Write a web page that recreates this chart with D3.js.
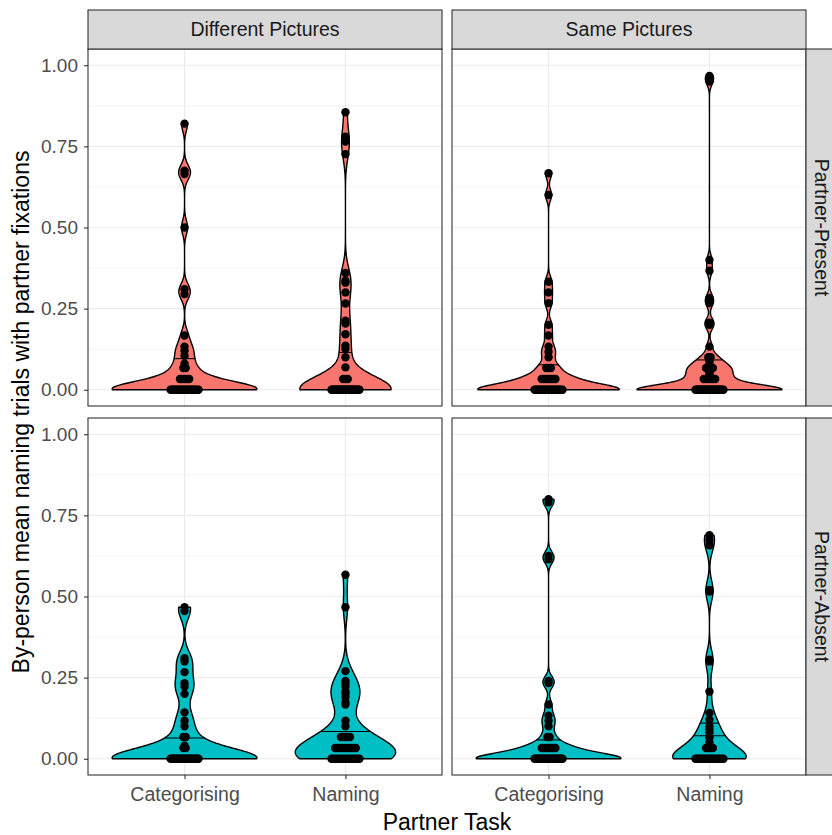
<!DOCTYPE html>
<html>
<head>
<meta charset="utf-8">
<script src="https://cdn.jsdelivr.net/npm/d3@7"></script>
<style>
  body { margin: 0; background: #fff; }
  svg { display: block; }
  text { font-family: "Liberation Sans", Arial, sans-serif; }
</style>
</head>
<body>
<svg id="chart" width="832" height="835"></svg>
<script>
// facet and axis labels
const pictureConditions = ["Different Pictures", "Same Pictures"];
const partnerConditions = ["Partner-Present", "Partner-Absent"];
const partnerTasks = ["Categorising", "Naming"];
const yTickValues = [0, 0.25, 0.5, 0.75, 1];
const yMinorValues = [0.125, 0.375, 0.625, 0.875];
const presenceFills = ["#F8766D", "#00BFC4"];

// by-person means
const presentDiffCat = [0.82, 0.675, 0.665, 0.5, 0.31, 0.295, 0.167, 0.133, 0.12, 0.105, 0.08, 0.067, 0.067,
  0.033, 0.033, 0.033, 0.033, 0.033,
  0, 0, 0, 0, 0, 0, 0, 0, 0, 0, 0, 0, 0, 0, 0, 0, 0, 0, 0, 0, 0, 0];
const presentDiffNam = [0.855, 0.78, 0.765, 0.726, 0.36, 0.336, 0.33, 0.3, 0.266, 0.213, 0.204, 0.171, 0.136, 0.126, 0.1, 0.069,
  0.033, 0.033, 0.033,
  0, 0, 0, 0, 0, 0, 0, 0, 0, 0, 0, 0, 0, 0, 0, 0, 0, 0, 0, 0, 0, 0, 0, 0, 0, 0, 0, 0];
const presentSameCat = [0.667, 0.6, 0.333, 0.3, 0.267, 0.2, 0.167, 0.133, 0.117, 0.1, 0.067, 0.067, 0.067,
  0.033, 0.033, 0.033, 0.033, 0.033, 0.033, 0.033,
  0, 0, 0, 0, 0, 0, 0, 0, 0, 0, 0, 0, 0, 0, 0, 0, 0, 0, 0, 0, 0, 0];
const presentSameNam = [0.967, 0.95, 0.4, 0.367, 0.283, 0.267, 0.207, 0.2, 0.133, 0.1, 0.1, 0.09, 0.083, 0.075,
  0.067, 0.067, 0.067, 0.067, 0.06, 0.056, 0.05, 0.045,
  0.033, 0.033, 0.033, 0.033, 0.033, 0.033,
  0, 0, 0, 0, 0, 0, 0, 0, 0, 0, 0, 0, 0, 0, 0, 0, 0, 0, 0, 0, 0, 0, 0, 0, 0, 0, 0, 0, 0, 0];
const absentDiffCat = [0.467, 0.455, 0.31, 0.3, 0.267, 0.233, 0.222, 0.2, 0.143, 0.117, 0.1, 0.067, 0.067, 0.04, 0.033, 0.033,
  0, 0, 0, 0, 0, 0, 0, 0, 0, 0, 0, 0, 0, 0, 0, 0, 0, 0, 0, 0, 0, 0];
const absentDiffNam = [0.567, 0.467, 0.27, 0.24, 0.233, 0.222, 0.207, 0.2, 0.19, 0.175, 0.167, 0.117, 0.1,
  0.067, 0.067, 0.067, 0.067, 0.067,
  0.033, 0.033, 0.033, 0.033, 0.033, 0.033, 0.033, 0.033, 0.033, 0.033,
  0, 0, 0, 0, 0, 0, 0, 0, 0, 0, 0, 0, 0, 0];
const absentSameCat = [0.8, 0.79, 0.625, 0.615, 0.24, 0.233, 0.167, 0.133, 0.117, 0.1, 0.067, 0.067,
  0.033, 0.033, 0.033, 0.033, 0.033, 0.033, 0.033,
  0, 0, 0, 0, 0, 0, 0, 0, 0, 0, 0, 0, 0, 0, 0, 0, 0, 0, 0, 0, 0, 0, 0, 0];
const absentSameNam = [0.689, 0.674, 0.658, 0.52, 0.515, 0.305, 0.3, 0.207, 0.141, 0.12, 0.1, 0.09, 0.08, 0.067, 0.065, 0.05,
  0.033, 0.033, 0.033, 0.033,
  0, 0, 0, 0, 0, 0, 0, 0, 0, 0, 0, 0, 0, 0, 0, 0, 0];

// horizontal summary lines drawn across each violin
const presentDiffLines = [[0.096], [0.115]];
const presentSameLines = [[0.077], [0.092]];
const absentDiffLines = [[0.064], [0.084]];
const absentSameLines = [[0.058], [0.071, 0.11]];

const cells = [
  { row: 0, col: 0, values: [presentDiffCat, presentDiffNam], lines: presentDiffLines },
  { row: 0, col: 1, values: [presentSameCat, presentSameNam], lines: presentSameLines },
  { row: 1, col: 0, values: [absentDiffCat, absentDiffNam], lines: absentDiffLines },
  { row: 1, col: 1, values: [absentSameCat, absentSameNam], lines: absentSameLines }
];

// layout
const panelLeft = [88, 452], panelTop = [49, 418];
const panelW = 354, panelH = 357;
const stripTop = 10, stripRightX = 806, stripRightW = 40;
const adjust = 0.8;

const svg = d3.select("#chart");

function nrd0(v) {
  const s = v.slice().sort(d3.ascending);
  const sd = d3.deviation(s);
  const iqr = d3.quantileSorted(s, 0.75) - d3.quantileSorted(s, 0.25);
  let lo = Math.min(sd, iqr / 1.34);
  if (!(lo > 0)) lo = sd || 1;
  return 0.9 * lo * Math.pow(s.length, -0.2);
}

function densityCurve(v) {
  const bw = nrd0(v) * adjust;
  const [lo, hi] = d3.extent(v);
  const norm = bw * Math.sqrt(2 * Math.PI);
  return d3.range(512).map(i => {
    const y = lo + (hi - lo) * i / 511;
    return { y, d: d3.mean(v, x => Math.exp(-0.5 * ((y - x) / bw) ** 2)) / norm };
  });
}

cells.forEach(cell => {
  const x0 = panelLeft[cell.col], y0 = panelTop[cell.row];
  const g = svg.append("g");

  const x = d3.scalePoint().domain(partnerTasks).range([x0, x0 + panelW]).padding(0.6);
  const y = d3.scaleLinear().domain([-0.05, 1.05]).range([y0 + panelH, y0]);

  // panel background + grid
  g.append("rect").attr("x", x0).attr("y", y0).attr("width", panelW).attr("height", panelH).attr("fill", "#fff");
  g.selectAll(".minor").data(yMinorValues).enter().append("line")
    .attr("x1", x0).attr("x2", x0 + panelW).attr("y1", d => y(d)).attr("y2", d => y(d))
    .attr("stroke", "#EBEBEB").attr("stroke-width", 0.6);
  g.selectAll(".major").data(yTickValues).enter().append("line")
    .attr("x1", x0).attr("x2", x0 + panelW).attr("y1", d => y(d)).attr("y2", d => y(d))
    .attr("stroke", "#EBEBEB").attr("stroke-width", 1.1);
  g.selectAll(".vmajor").data(partnerTasks).enter().append("line")
    .attr("x1", d => x(d)).attr("x2", d => x(d)).attr("y1", y0).attr("y2", y0 + panelH)
    .attr("stroke", "#EBEBEB").attr("stroke-width", 1.1);

  // densities, scaled by the widest in the panel
  const curves = cell.values.map(densityCurve);
  const maxD = d3.max(curves, c => d3.max(c, p => p.d));
  const halfMax = 0.9 * x.step() / 2;

  curves.forEach((curve, i) => {
    const cx = x(partnerTasks[i]);
    const w = p => p.d / maxD * halfMax;
    const area = d3.area().y(p => y(p.y)).x0(p => cx - w(p)).x1(p => cx + w(p));
    g.append("path").datum(curve).attr("d", area)
      .attr("fill", presenceFills[cell.row]).attr("stroke", "#000").attr("stroke-width", 1.4)
      .attr("stroke-linejoin", "round");

    // summary lines
    const bis = d3.bisector(p => p.y).left;
    cell.lines[i].forEach(v => {
      const j = Math.min(curve.length - 1, Math.max(1, bis(curve, v)));
      const a = curve[j - 1], b = curve[j];
      const t = (v - a.y) / (b.y - a.y);
      const hw = (a.d + (b.d - a.d) * t) / maxD * halfMax;
      g.append("line").attr("x1", cx - hw).attr("x2", cx + hw).attr("y1", y(v)).attr("y2", y(v))
        .attr("stroke", "#000").attr("stroke-width", 1.1);
    });

    // dots, equal values stacked side by side around the centre
    const rows = d3.groups(cell.values[i], v => v);
    rows.forEach(([v, list]) => {
      const k = list.length;
      const gap = k > 1 ? Math.min(2.3, 28 / (k - 1)) : 0;
      g.selectAll(null).data(list).enter().append("circle")
        .attr("cx", (d, n) => cx + (n - (k - 1) / 2) * gap)
        .attr("cy", y(v)).attr("r", 4.2).attr("fill", "#000");
    });
  });

  g.append("rect").attr("x", x0).attr("y", y0).attr("width", panelW).attr("height", panelH)
    .attr("fill", "none").attr("stroke", "#333333").attr("stroke-width", 1.1);

  // y axis on left column
  if (cell.col === 0) {
    const ax = g.append("g").attr("transform", `translate(${x0},0)`)
      .call(d3.axisLeft(y).tickValues(yTickValues).tickFormat(d3.format(".2f")).tickSize(4).tickPadding(6));
    ax.select(".domain").remove();
    ax.selectAll("line").attr("stroke", "#333333").attr("stroke-width", 1.1);
    ax.selectAll("text").attr("fill", "#4D4D4D").style("font-size", "19px");
  }
  // x axis on bottom row
  if (cell.row === 1) {
    const ax = g.append("g").attr("transform", `translate(0,${y0 + panelH})`)
      .call(d3.axisBottom(x).tickSize(4).tickPadding(8));
    ax.select(".domain").remove();
    ax.selectAll("line").attr("stroke", "#333333").attr("stroke-width", 1.1);
    ax.selectAll("text").attr("fill", "#4D4D4D").style("font-size", "19.5px");
  }
});

// top strips
pictureConditions.forEach((lab, c) => {
  svg.append("rect").attr("x", panelLeft[c]).attr("y", stripTop).attr("width", panelW).attr("height", panelTop[0] - stripTop)
    .attr("fill", "#D9D9D9").attr("stroke", "#333333").attr("stroke-width", 1.1);
  svg.append("text").attr("x", panelLeft[c] + panelW / 2).attr("y", (stripTop + panelTop[0]) / 2)
    .attr("dy", "0.35em").attr("text-anchor", "middle").attr("fill", "#1A1A1A")
    .style("font-size", "19.5px").text(lab);
});

// right strips
partnerConditions.forEach((lab, r) => {
  svg.append("rect").attr("x", stripRightX).attr("y", panelTop[r]).attr("width", stripRightW).attr("height", panelH)
    .attr("fill", "#D9D9D9").attr("stroke", "#333333").attr("stroke-width", 1.1);
  const cy = panelTop[r] + panelH / 2;
  svg.append("text").attr("transform", `translate(${stripRightX + 16},${cy}) rotate(90)`)
    .attr("dy", "0.35em").attr("text-anchor", "middle").attr("fill", "#1A1A1A")
    .style("font-size", "19.5px").text(lab);
});

// axis titles
svg.append("text").attr("x", (panelLeft[0] + stripRightX) / 2).attr("y", 830)
  .attr("text-anchor", "middle").attr("fill", "#000").style("font-size", "23px").text("Partner Task");
svg.append("text").attr("transform", `translate(29,${(panelTop[0] + panelTop[1] + panelH) / 2}) rotate(-90)`)
  .attr("text-anchor", "middle").attr("fill", "#000").style("font-size", "23px")
  .text("By-person mean naming trials with partner fixations");
</script>
</body>
</html>
